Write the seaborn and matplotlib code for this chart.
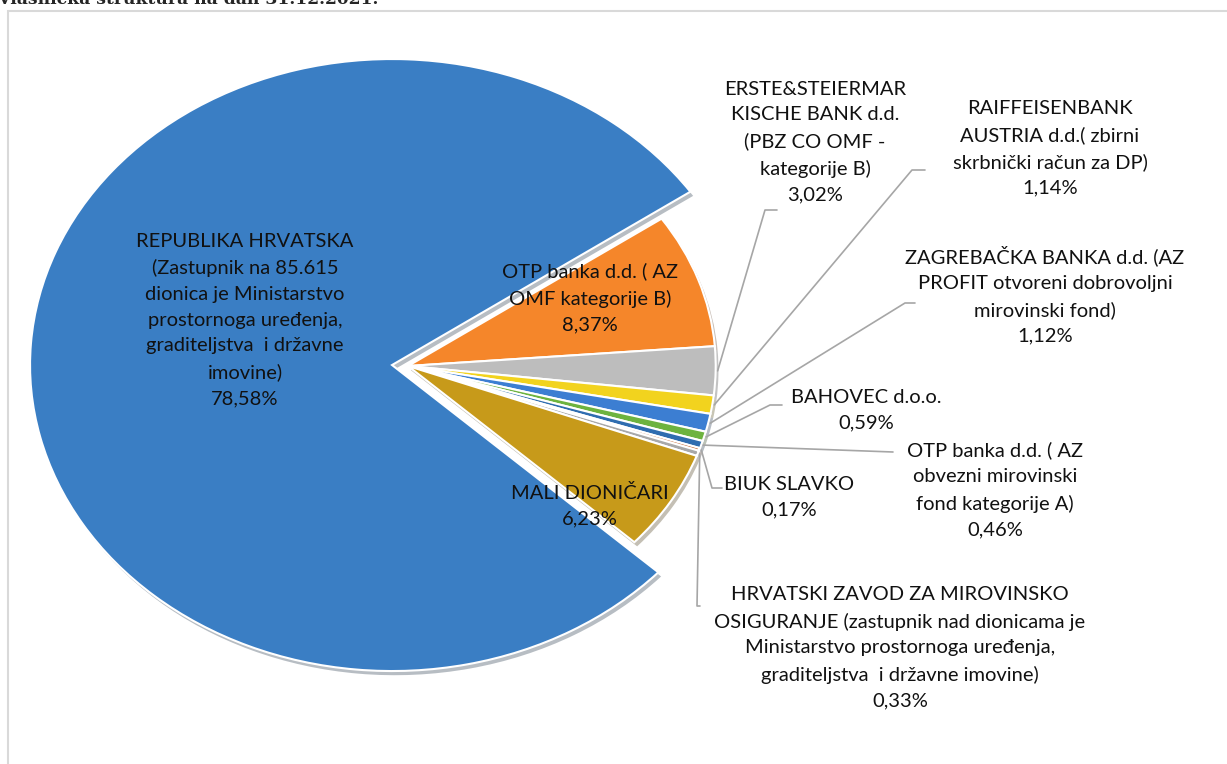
import numpy as np
import matplotlib
matplotlib.use("Agg")
import matplotlib.pyplot as plt
import matplotlib.patheffects as pe
from matplotlib.patches import Rectangle
import seaborn as sns

# ==================== style ====================
sns.set_style("white")
plt.rcParams['font.family'] = ['Lato', 'DejaVu Sans']

# ==================== data (clockwise, starting with the big slice) ====================
owners = [
    ['REPUBLIKA HRVATSKA', '(Zastupnik na 85.615', 'dionica je Ministarstvo',
     'prostornoga uređenja,', 'graditeljstva  i državne', 'imovine)'],
    ['OTP banka d.d. ( AZ', 'OMF kategorije B)'],
    ['ERSTE&STEIERMAR', 'KISCHE BANK d.d.', '(PBZ CO OMF -', 'kategorije B)'],
    ['RAIFFEISENBANK', 'AUSTRIA d.d.( zbirni', 'skrbnički račun za DP)'],
    ['ZAGREBAČKA BANKA d.d. (AZ', 'PROFIT otvoreni dobrovoljni', 'mirovinski fond)'],
    ['BAHOVEC d.o.o.'],
    ['OTP banka d.d. ( AZ', 'obvezni mirovinski', 'fond kategorije A)'],
    ['BIUK SLAVKO'],
    ['HRVATSKI ZAVOD ZA MIROVINSKO', 'OSIGURANJE (zastupnik nad dionicama je',
     'Ministarstvo prostornoga uređenja,', 'graditeljstva  i državne imovine)'],
    ['MALI DIONIČARI'],
]
shares = [78.58, 8.37, 3.02, 1.14, 1.12, 0.59, 0.46, 0.17, 0.33, 6.23]
share_text = ['78,58%', '8,37%', '3,02%', '1,14%', '1,12%', '0,59%', '0,46%', '0,17%', '0,33%', '6,23%']
slice_colors = ['#3A7EC4', '#F5862A', '#BDBDBD', '#F2D31E', '#3C7ED2',
                '#6DB33F', '#2F6DB0', '#C0602A', '#A8A8A8', '#C79A1A']

# ==================== layout (pixels from top-left) ====================
W, H = 1227, 764
sx, sy = 362, 306          # horizontal / vertical pie radius in px
k = sx / sy
pie_cx, pie_cy = 408, 366

# label centres
label_xy = [(245, 320), (590, 298), (815, 142), (1050, 148), (1045, 295),
            (866, 410), (995, 490), (789, 497), (900, 648), (590, 506)]
# leader line: points (px) from the label side towards the slice
leaders = [None, None,
           [(777, 210), (765, 210)],
           [(925, 170), (912, 170)],
           [(915, 303), (905, 303)],
           [(782, 405), (770, 405)],
           [(893, 452)],
           [(722, 488), (712, 488)],
           [(700, 606), (697, 606)],
           None]


def px(x, y):
    return x, (H - y) * k


fig = plt.figure(figsize=(W / 100, H / 100), dpi=100)
ax = fig.add_axes([0, 0, 1, 1])

explode = [16] + [0] * (len(shares) - 1)
start = 34.5 + 360 * shares[0] / sum(shares)
wedges, _ = ax.pie(shares, colors=slice_colors, radius=sx, center=px(pie_cx, pie_cy),
                   startangle=start, counterclock=False, explode=explode,
                   wedgeprops=dict(edgecolor='white', linewidth=1.5,
                                   path_effects=[pe.SimplePatchShadow(offset=(2, -3), alpha=0.3),
                                                 pe.Normal()]))
for w in wedges[1:]:
    w.set_radius(0.85 * sx)

ax.set_aspect('auto')
ax.set_xlim(0, W)
ax.set_ylim(0, H * k)
ax.axis('off')

# labels + leader lines
for i, w in enumerate(wedges):
    txt = '\n'.join(owners[i] + [share_text[i]])
    lx, ly = px(*label_xy[i])
    ax.text(lx, ly, txt, ha='center', va='center', fontsize=14.5, linespacing=1.62,
            color='#111111', zorder=5)
    if leaders[i] is not None:
        mid = np.deg2rad((w.theta1 + w.theta2) / 2)
        r = w.r + 2
        ax_pt = (w.center[0] + r * np.cos(mid), w.center[1] + r * np.sin(mid))
        pts = [px(*p) for p in leaders[i]] + [ax_pt]
        ax.plot([p[0] for p in pts], [p[1] for p in pts], color='#A6A6A6', lw=1.2, zorder=4)

# chart area frame and clipped heading
fig.add_artist(Rectangle((8 / W, -0.05), 1.1, (H - 11) / H + 0.05, transform=fig.transFigure,
                         fill=False, edgecolor='#D9D9D9', lw=1.5))
fig.text(-0.002, 1 - 4 / H, 'Vlasnička struktura na dan 31.12.2021.', family=['DejaVu Serif'],
         fontweight='bold', fontsize=12.3, va='baseline', ha='left')

fig.savefig('out.png', dpi=100)
